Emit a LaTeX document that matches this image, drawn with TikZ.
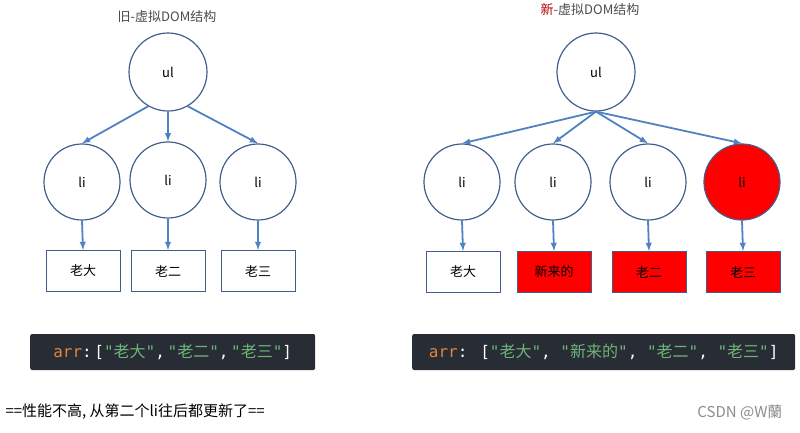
\documentclass[tikz,border=0pt]{standalone}
\usepackage{fontspec}
\setmainfont{Noto Sans CJK SC}
\newfontfamily\monof{DejaVu Sans Mono}
\newfontfamily\cjkf{Noto Sans CJK SC}
\definecolor{og}{RGB}{230,130,60}\definecolor{gr}{RGB}{110,180,120}
\definecolor{edg}{RGB}{65,95,140}\definecolor{arc}{RGB}{80,130,195}\definecolor{cbg}{RGB}{40,44,52}
\newcommand{\cj}[1]{\textcolor{gr}{"{\cjkf #1}"}}
\begin{document}
\begin{tikzpicture}[x=1pt,y=-1pt,
  circ/.style={circle,draw=edg,line width=1.2pt,minimum size=78pt,inner sep=0pt,font=\fontsize{13}{13}\selectfont},
  leaf/.style={draw=edg,line width=1pt,minimum width=74pt,minimum height=41pt,inner sep=0pt,font=\fontsize{13}{13}\selectfont},
  arr/.style={-latex,draw=arc,line width=1.8pt},
  code/.style={fill=cbg,rounded corners=2pt,minimum height=36pt,inner sep=5pt,anchor=west,font=\monof\fontsize{16}{16}\selectfont}]
\useasboundingbox (0,0) rectangle (800,432);
\node[font=\fontsize{13}{13}\selectfont,text=black!70] (t1) at (167,17) {旧-虚拟DOM结构};
\node (u1) [circ] at (168,72) {ul};
\node (a1) [circ,minimum size=76pt] at (82,182) {li};
\node (b1) [circ,minimum size=76pt] at (168,180) {li};
\node (c1) [circ,minimum size=76pt] at (258,182) {li};
\node (x1) [leaf] at (83,271) {老大};
\node (y1) [leaf] at (168,271) {老二};
\node (z1) [leaf] at (258,271) {老三};
\draw[arr] (u1.240) -- (a1.north);
\draw[arr] (u1.south) -- (b1.north);
\draw[arr] (u1.300) -- (c1.north);
\draw[arr] (a1.south) -- (x1.north);
\draw[arr] (b1.south) -- (y1.north);
\draw[arr] (c1.south) -- (z1.north);
\node (k1) [code,minimum width=285pt] at (30,352) {\textcolor{og}{arr}\textcolor{white}{:\,[}\cj{老大}\textcolor{white}{,\,}\cj{老二}\textcolor{white}{,\,}\cj{老三}\textcolor{white}{]}};
\node[font=\fontsize{13}{13}\selectfont,text=black!70] (t2) at (590,10) {\textcolor{red!70!black}{新}-虚拟DOM结构};
\node (u2) [circ] at (596,72) {ul};
\node (a2) [circ,minimum size=76pt] at (462,182) {li};
\node (b2) [circ,minimum size=76pt] at (553,182) {li};
\node (c2) [circ,minimum size=76pt] at (648,182) {li};
\node (d2) [circ,minimum size=76pt,fill=red] at (742,182) {li};
\node (x2) [leaf] at (463,272) {老大};
\node (y2) [leaf,fill=red] at (554,272) {新来的};
\node (z2) [leaf,fill=red] at (649,272) {老二};
\node (w2) [leaf,fill=red] at (743,272) {老三};
\foreach \t in {a2,b2,c2,d2} \draw[arr] (u2.south) -- (\t.north);
\draw[arr] (a2.south) -- (x2.north);
\draw[arr] (b2.south) -- (y2.north);
\draw[arr] (c2.south) -- (z2.north);
\draw[arr] (d2.south) -- (w2.north);
\node (k2) [code,minimum width=383pt] at (412,352) {\textcolor{og}{arr}\textcolor{white}{: [}\cj{老大}\textcolor{white}{, }\cj{新来的}\textcolor{white}{, }\cj{老二}\textcolor{white}{, }\cj{老三}\textcolor{white}{]}};
\node[anchor=west,font=\fontsize{15}{15}\selectfont] (n) at (2,412) {==性能不高, 从第二个li往后都更新了==};
\node[anchor=east,font=\fontsize{15}{15}\selectfont,text=black!45] (w) at (786,412) {CSDN @W蘭};
\end{tikzpicture}
\end{document}
